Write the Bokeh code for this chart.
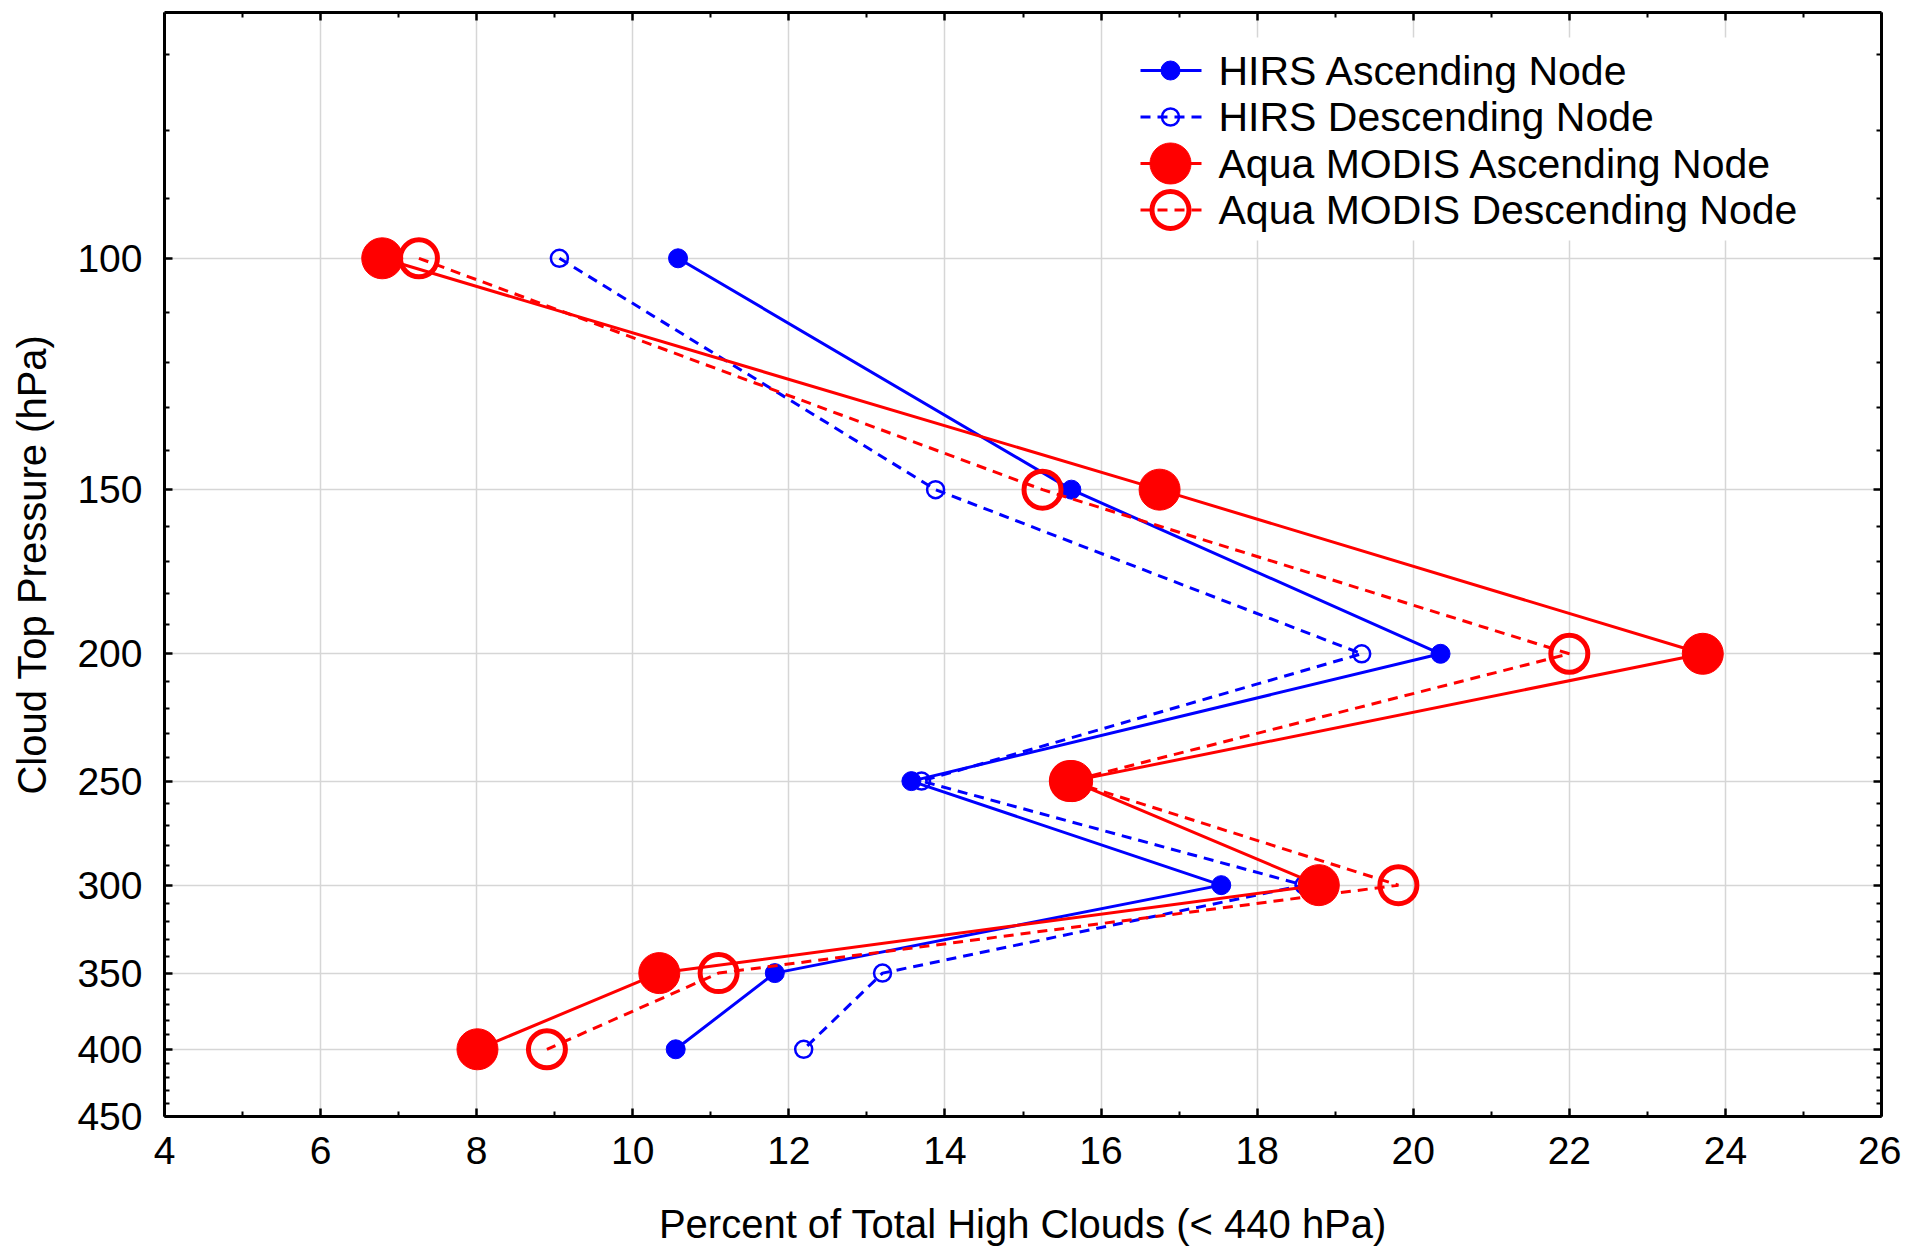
from bokeh.plotting import figure
from bokeh.models import Range1d, FixedTicker, LinearAxis, LogAxis, LinearScale
from bokeh.core.properties import value
from bokeh.embed import file_html
from bokeh.resources import INLINE

# ---------------- data ----------------
pressure = [100, 150, 200, 250, 300, 350, 400]
hirs_asc = [10.58, 15.62, 20.35, 13.57, 17.54, 11.82, 10.55]
hirs_desc = [9.06, 13.88, 19.34, 13.70, 18.60, 13.20, 12.19]
modis_asc = [6.79, 16.75, 23.71, 15.63, 18.79, 10.34, 8.01]
modis_desc = [7.26, 15.25, 22.00, 15.60, 19.81, 11.10, 8.90]

series_labels = ["HIRS Ascending Node", "HIRS Descending Node",
                 "Aqua MODIS Ascending Node", "Aqua MODIS Descending Node"]

x_ticks = [4, 6, 8, 10, 12, 14, 16, 18, 20, 22, 24, 26]
x_minor = [5, 7, 9, 11, 13, 15, 17, 19, 21, 23, 25]
y_ticks = [100, 150, 200, 250, 300, 350, 400, 450]
y_tick_labels = ["100", "150", "200", "250", "300", "350", "400", "450"]
y_minor = [70, 80, 90, 110, 120, 130, 140, 160, 170, 180, 190, 210, 220, 230, 240,
           260, 270, 280, 290, 310, 320, 330, 340, 360, 370, 380, 390, 410, 420, 430, 440]

x_label = "Percent of Total High Clouds (< 440 hPa)"
y_label = "Cloud Top Pressure (hPa)"

# ---------------- layout ----------------
W, H = 1901, 1250
FL, FT, FR, FB = 164, 12, 1881, 1116
FONT = "Liberation Sans"
BLUE = "#0000ff"
RED = "#ff0000"

p = figure(width=W, height=H, output_backend="svg", toolbar_location=None,
           x_range=Range1d(4, 26), y_range=Range1d(450, 65), y_axis_type="log",
           min_border_left=FL, min_border_top=FT, min_border_right=W - FR,
           min_border_bottom=H - FB)
p.outline_line_color = None
p.background_fill_color = "white"

xt = FixedTicker(ticks=x_ticks, minor_ticks=x_minor)
yt = FixedTicker(ticks=y_ticks, minor_ticks=y_minor)

def style_axis(ax):
    ax.axis_line_color = "black"
    ax.axis_line_width = 3
    ax.major_tick_line_color = "black"
    ax.major_tick_line_width = 2.5
    ax.minor_tick_line_color = "black"
    ax.minor_tick_line_width = 2
    ax.major_tick_in = 8
    ax.major_tick_out = 0
    ax.minor_tick_in = 5
    ax.minor_tick_out = 0

xa = p.xaxis[0]
xa.ticker = xt
style_axis(xa)
xa.major_label_text_font = FONT
xa.major_label_text_font_size = "39px"
xa.major_label_text_color = "black"
xa.major_label_standoff = 20
xa.axis_label = x_label
xa.axis_label_text_font = FONT
xa.axis_label_text_font_size = "40px"
xa.axis_label_text_font_style = "normal"
xa.axis_label_text_color = "black"
xa.axis_label_standoff = 35

ya = p.yaxis[0]
ya.ticker = yt
style_axis(ya)
ya.major_label_overrides = {t: s for t, s in zip(y_ticks, y_tick_labels)}
ya.major_label_text_font = FONT
ya.major_label_text_font_size = "39px"
ya.major_label_text_color = "black"
ya.major_label_standoff = 22
ya.axis_label = y_label
ya.axis_label_text_font = FONT
ya.axis_label_text_font_size = "40px"
ya.axis_label_text_font_style = "normal"
ya.axis_label_text_color = "black"
ya.axis_label_standoff = 20

top = LinearAxis(ticker=xt, major_label_overrides={t: "" for t in x_ticks},
                 major_label_text_font_size="1px", major_label_standoff=0)
style_axis(top)
p.add_layout(top, "above")
right = LogAxis(ticker=yt, major_label_overrides={t: "" for t in y_ticks},
                major_label_text_font_size="1px", major_label_standoff=0)
style_axis(right)
p.add_layout(right, "right")

p.xgrid.ticker = xt
p.ygrid.ticker = yt
for g in (p.xgrid[0], p.ygrid[0]):
    g.grid_line_color = "#d6d6d6"
    g.grid_line_width = 1.5

# ---------------- data series ----------------
DASH = "10 7"
LW = 3
p.line(hirs_asc, pressure, line_color=BLUE, line_width=LW)
p.scatter(hirs_asc, pressure, marker="circle", size=19, fill_color=BLUE, line_color=BLUE)

p.line(hirs_desc, pressure, line_color=BLUE, line_width=LW, line_dash=DASH)
p.scatter(hirs_desc, pressure, marker="circle", size=17, fill_color=None,
          line_color=BLUE, line_width=2.5)

p.line(modis_asc, pressure, line_color=RED, line_width=LW)
p.scatter(modis_asc, pressure, marker="circle", size=41, fill_color=RED, line_color=RED)

p.line(modis_desc, pressure, line_color=RED, line_width=LW, line_dash=DASH)
p.scatter(modis_desc, pressure, marker="circle", size=37, fill_color=None,
          line_color=RED, line_width=5)

# ---------------- legend (pixel frame) ----------------
p.extra_x_ranges = {"px": Range1d(FL, FR)}
p.extra_y_ranges = {"py": Range1d(FB, FT)}
p.extra_x_scales = {"px": LinearScale()}
p.extra_y_scales = {"py": LinearScale()}

p.quad(left=[1120], right=[1810], top=[37], bottom=[240], fill_color="white",
       line_color=None, x_range_name="px", y_range_name="py")

row_y = [70 + i * 46.5 for i in range(4)]
lx0, lx1, mx, tx = 1140, 1201, 1170, 1218
colors = [BLUE, BLUE, RED, RED]
dashes = ["solid", DASH, "solid", DASH]
msize = [19, 17, 41, 37]
mfill = [BLUE, None, RED, None]
mlw = [1, 2.5, 1, 5]
for i in range(4):
    p.line([lx0, lx1], [row_y[i], row_y[i]], line_color=colors[i], line_width=LW,
           line_dash=dashes[i], x_range_name="px", y_range_name="py")
    p.scatter([mx], [row_y[i]], marker="circle", size=msize[i], fill_color=mfill[i],
              line_color=colors[i], line_width=mlw[i], x_range_name="px", y_range_name="py")
p.text(x=[tx] * 4, y=row_y, text=series_labels, text_font=value(FONT),
       text_font_size="41px", text_baseline="middle", text_align="left",
       text_color="black", x_range_name="px", y_range_name="py")

open("out.html", "w").write(file_html(p, INLINE))
